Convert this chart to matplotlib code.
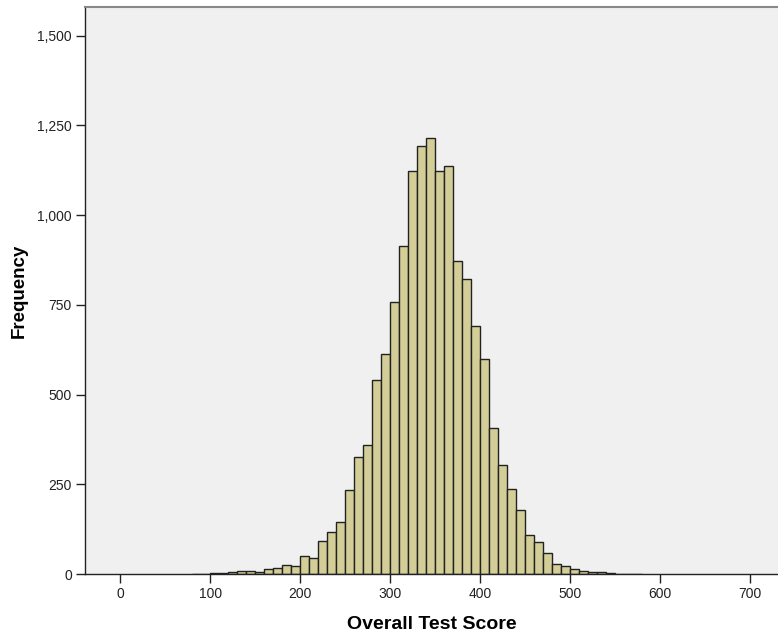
import matplotlib
matplotlib.use("Agg")
import matplotlib.pyplot as plt
from matplotlib.ticker import FuncFormatter

plt.rcParams['font.family'] = ['Liberation Sans', 'DejaVu Sans']

# bin left edges (width 10) and counts
bin_left = list(range(80, 580, 10))
counts = [1, 0, 2, 3, 5, 9, 9, 5, 13, 16,
          25, 22, 51, 45, 93, 116, 146, 235, 326, 359,
          541, 614, 757, 913, 1122, 1192, 1215, 1122, 1138, 872,
          822, 691, 599, 406, 305, 237, 179, 110, 90, 59,
          27, 23, 14, 9, 6, 5, 2, 1, 0, 1]
x_ticks = [0, 100, 200, 300, 400, 500, 600, 700]
y_ticks = [0, 250, 500, 750, 1000, 1250, 1500]

fig = plt.figure(figsize=(7.78, 6.35), dpi=100)
ax = fig.add_axes([85 / 778, 61 / 635, 693 / 778, 567 / 635])
ax.set_facecolor('#F0F0F0')

ax.bar(bin_left, counts, width=10, align='edge', color='#D3CE97',
       edgecolor='#222222', linewidth=1.0)

ax.set_xlim(-39, 731)
ax.set_ylim(0, 1580)
ax.set_xticks(x_ticks)
ax.set_yticks(y_ticks)
ax.yaxis.set_major_formatter(FuncFormatter(lambda v, p: f'{int(v):,}'))
ax.tick_params(axis='both', direction='out', length=6.5, width=1,
               labelsize=10, pad=3, colors='#222222')

for s in ['left', 'bottom']:
    ax.spines[s].set_color('#222222')
    ax.spines[s].set_linewidth(1)
ax.spines['top'].set_color('#888888')
ax.spines['top'].set_linewidth(1.5)
ax.spines['right'].set_visible(False)

ax.set_xlabel('Overall Test Score', fontsize=14, fontweight='bold', labelpad=11)
ax.set_ylabel('Frequency', fontsize=13.5, fontweight='bold', labelpad=7)

fig.savefig('out.png', dpi=100, facecolor='white')
